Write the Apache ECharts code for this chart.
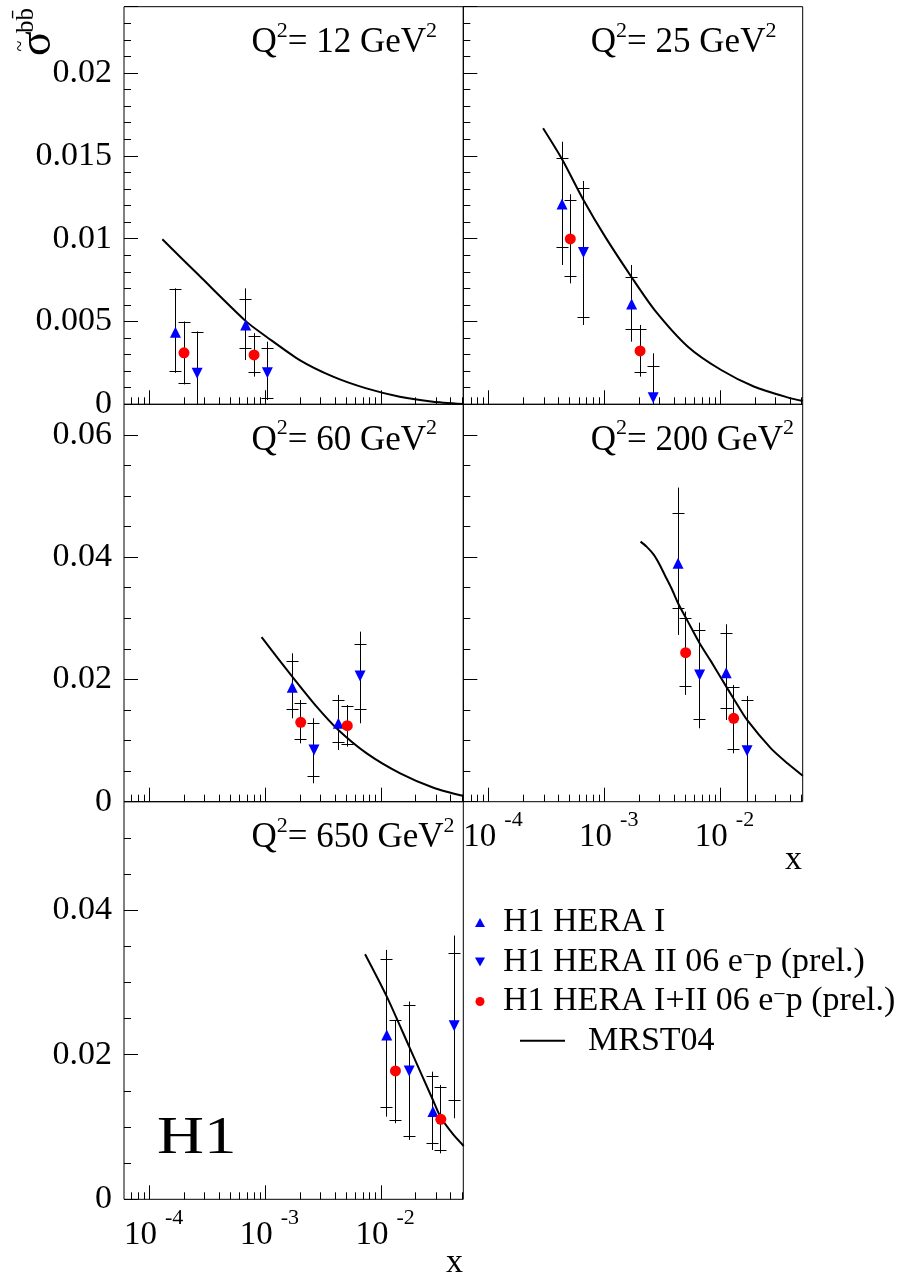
<!DOCTYPE html>
<html><head><meta charset="utf-8">
<script src="https://cdn.jsdelivr.net/npm/echarts@6/dist/echarts.min.js"></script>
<style>html,body{margin:0;padding:0;background:#fff}#c{width:906px;height:1273px}</style>
</head><body><div id="c"></div>
<script>
const FONT = "'Liberation Serif', 'Times New Roman', serif";

// ---------------- data ----------------
const PANEL_Q2 = ['12', '25', '60', '200', '650'];
const Y_MAX = [0.024, 0.024, 0.065, 0.065, 0.055];
const Y_MAJOR_STEP = [0.005, 0.005, 0.02, 0.02, 0.02];
const Y_MINOR_STEP = [0.001, 0.001, 0.005, 0.005, 0.005];
const X_MIN = 6e-5, X_MAX = 0.0513;
const X_LABEL_EXPONENTS = [-4, -3, -2];
const X_MAJOR_TICKS = [1e-4, 1e-3, 1e-2];
const X_MINOR_TICKS = [7e-5, 8e-5, 9e-5,
  2e-4, 3e-4, 4e-4, 5e-4, 6e-4, 7e-4, 8e-4, 9e-4,
  2e-3, 3e-3, 4e-3, 5e-3, 6e-3, 7e-3, 8e-3, 9e-3,
  2e-2, 3e-2, 4e-2, 5e-2];

const SERIES_NAMES = ['H1 HERA I', 'H1 HERA II 06 e-p (prel.)', 'H1 HERA I+II 06 e-p (prel.)', 'MRST04'];

// each point: [x, sigma, statLo, statHi, totLo, totHi]
const HERA1_Q12 = [[1.67e-4, 0.00435, 0.00197, 0.00694, 0.00190, 0.00700], [6.76e-4, 0.00479, 0.00338, 0.00630, 0.00267, 0.00700]];
const HERA2_Q12 = [[2.57e-4, 0.00187, -0.0006, 0.00435, -0.0008, 0.00440], [1.04e-3, 0.00191, 0.00032, 0.00338, 0.00026, 0.00378]];
const COMB_Q12  = [[1.98e-4, 0.00311, 0.00127, 0.00493, 0.00120, 0.00500], [7.98e-4, 0.00298, 0.00193, 0.00408, 0.00167, 0.00429]];
const MRST_Q12  = [[1.287e-4, 0.00996], [2.705e-4, 0.00774], [6.846e-4, 0.00499], [1.02e-3, 0.00408], [1.979e-3, 0.00267],
  [3.842e-3, 0.00167], [7.46e-3, 0.00096], [0.01448, 0.00046], [0.0281, 0.00016], [0.0513, 0.00002]];

const HERA1_Q25 = [[4.28e-4, 0.01209, 0.00948, 0.01481, 0.00841, 0.01585], [1.708e-3, 0.00605, 0.00449, 0.00767, 0.00378, 0.00841]];
const HERA2_Q25 = [[6.55e-4, 0.00917, 0.00523, 0.01300, 0.00479, 0.01348], [2.62e-3, 0.00040, -0.0014, 0.00227, -0.0022, 0.00308]];
const COMB_Q25  = [[5.04e-4, 0.00998, 0.00770, 0.01233, 0.00730, 0.01268], [2.02e-3, 0.00322, 0.00191, 0.00449, 0.00167, 0.00479]];
const MRST_Q25  = [[2.934e-4, 0.01666], [4.28e-4, 0.01479], [6.55e-4, 0.01233], [1.007e-3, 0.01012], [1.708e-3, 0.00767],
  [2.70e-3, 0.00569], [5.23e-3, 0.00348], [0.01014, 0.00207], [0.0196, 0.00106], [0.0379, 0.00042], [0.0513, 0.0002]];

const HERA1_Q60 = [[1.706e-3, 0.01872, 0.01500, 0.02291, 0.01364, 0.02428], [4.27e-3, 0.01283, 0.00966, 0.01648, 0.00846, 0.01746]];
const HERA2_Q60 = [[2.63e-3, 0.00846, 0.00409, 0.01271, 0.00301, 0.01364], [6.58e-3, 0.02057, 0.01500, 0.02575, 0.01283, 0.02782]];
const COMB_Q60  = [[2.02e-3, 0.01299, 0.01010, 0.01610, 0.00955, 0.01664], [5.10e-3, 0.01244, 0.00928, 0.01555, 0.00900, 0.01582]];
const MRST_Q60  = [[9.27e-4, 0.0269], [1.706e-3, 0.02046], [2.77e-3, 0.01555], [4.27e-3, 0.01173], [7.51e-3, 0.00791],
  [0.01462, 0.00464], [0.02838, 0.00229], [0.0517, 0.00093]];

const HERA1_Q200 = [[4.30e-3, 0.0390, 0.03164, 0.04707, 0.02728, 0.05138], [0.0112, 0.02111, 0.01517, 0.02744, 0.01337, 0.02902]];
const HERA2_Q200 = [[6.6e-3, 0.02073, 0.01337, 0.02793, 0.01201, 0.02929], [0.01696, 0.00835, -0.0005, 0.01648, -0.002, 0.0173]];
const COMB_Q200  = [[5.0e-3, 0.02438, 0.01882, 0.02989, 0.01746, 0.03109], [0.0130, 0.01364, 0.00857, 0.01866, 0.00791, 0.01909]];
const MRST_Q200  = [[2.04e-3, 0.04254], [2.298e-3, 0.04172], [2.657e-3, 0.04037], [2.99e-3, 0.03873], [3.30e-3, 0.03709],
  [3.77e-3, 0.03491], [4.30e-3, 0.03246], [5.23e-3, 0.02945], [6.6e-3, 0.02592], [8.31e-3, 0.02291], [0.01014, 0.02019],
  [0.01319, 0.01664], [0.01696, 0.01337], [0.02726, 0.00873], [0.03786, 0.00628], [0.0513, 0.00425]];

const HERA1_Q650 = [[0.01119, 0.02274, 0.01268, 0.03322, 0.01143, 0.0345], [0.02803, 0.01213, 0.00775, 0.01697, 0.00682, 0.01766]];
const HERA2_Q650 = [[0.01747, 0.01776, 0.00867, 0.02675, 0.00821, 0.02735], [0.0428, 0.02399, 0.0136, 0.03405, 0.01121, 0.03649]];
const COMB_Q650  = [[0.0133, 0.01776, 0.01084, 0.02472, 0.01052, 0.02482], [0.0328, 0.01107, 0.00673, 0.01545, 0.00636, 0.01582]];
const MRST_Q650  = [[7.27e-3, 0.03391], [0.0112, 0.02804], [0.01747, 0.02112], [0.02803, 0.01374], [0.0328, 0.0113],
  [0.04227, 0.0089], [0.0517, 0.00738]];

const PANEL_DATA = [
  [HERA1_Q12, HERA2_Q12, COMB_Q12, MRST_Q12],
  [HERA1_Q25, HERA2_Q25, COMB_Q25, MRST_Q25],
  [HERA1_Q60, HERA2_Q60, COMB_Q60, MRST_Q60],
  [HERA1_Q200, HERA2_Q200, COMB_Q200, MRST_Q200],
  [HERA1_Q650, HERA2_Q650, COMB_Q650, MRST_Q650]
];

// ---------------- layout ----------------
const GRIDS = [
  {left: 124, top: 6.7, width: 339.3, height: 397.6},
  {left: 463.3, top: 6.7, width: 339.4, height: 397.6},
  {left: 124, top: 404.3, width: 339.3, height: 397.4},
  {left: 463.3, top: 404.3, width: 339.4, height: 397.4},
  {left: 124, top: 801.7, width: 339.3, height: 397.6}
];
const SHOW_Y_LABELS = [true, false, true, false, true];
const SHOW_X_LABELS = [false, false, false, true, true];
const MARKERS = [
  {symbol: 'triangle', rotate: 0, color: '#0000ff', icon: 'triangle'},
  {symbol: 'triangle', rotate: 180, color: '#0000ff', icon: 'path://M0,0L10,0L5,9Z'},
  {symbol: 'circle', rotate: 0, color: '#ff0000', icon: 'circle'}
];

const crisp = v => Math.round(v - 0.5) + 0.5;

function errRender(params, api) {
  const x = api.value(0);
  const t1 = api.coord([x, api.value(5)]);
  const t0 = api.coord([x, api.value(4)]);
  const s1 = api.coord([x, api.value(3)]);
  const s0 = api.coord([x, api.value(2)]);
  const cx = crisp(t1[0]);
  const hw = 6;
  const st = {stroke: '#000', lineWidth: 1};
  return {type: 'group', children: [
    {type: 'line', shape: {x1: cx, y1: t1[1], x2: cx, y2: t0[1]}, style: st},
    {type: 'line', shape: {x1: cx - hw, y1: crisp(s1[1]), x2: cx + hw, y2: crisp(s1[1])}, style: st},
    {type: 'line', shape: {x1: cx - hw, y1: crisp(s0[1]), x2: cx + hw, y2: crisp(s0[1])}, style: st}
  ]};
}
function tickRender(len) {
  return function (params, api) {
    const p = api.coord([api.value(0), api.value(1)]);
    const x = crisp(p[0]);
    return {type: 'line', shape: {x1: x, y1: p[1], x2: x, y2: p[1] - len}, style: {stroke: '#000', lineWidth: 1}};
  };
}
function fmtX(v) {
  const l = Math.log10(v);
  const e = Math.round(l);
  if (Math.abs(l - e) > 1e-6 || X_LABEL_EXPONENTS.indexOf(e) < 0) return '';
  return '{b|10}{s|' + e + '}';
}
function fmtYFactory(step) {
  return function (v) {
    const r = v / step;
    if (Math.abs(r - Math.round(r)) > 1e-6) return '';
    return String(+v.toFixed(4));
  };
}

const grid = [], xAxis = [], yAxis = [], series = [], graphic = [];

GRIDS.forEach((g, p) => {
  grid.push(Object.assign({show: true, borderColor: '#000', borderWidth: 1, backgroundColor: 'transparent',
    containLabel: false, outerBoundsMode: 'none'}, g));
  xAxis.push({
    type: 'log', logBase: 10, gridIndex: p, min: X_MIN, max: X_MAX,
    axisLine: {show: false}, axisTick: {show: false}, splitLine: {show: false},
    minorTick: {show: false}, minorSplitLine: {show: false},
    axisLabel: {
      show: SHOW_X_LABELS[p], margin: 8, formatter: fmtX, hideOverlap: false,
      rich: {
        b: {fontFamily: FONT, fontSize: 33, color: '#000', lineHeight: 56, verticalAlign: 'middle', padding: [0, 0, 0, 8]},
        s: {fontFamily: FONT, fontSize: 22, color: '#000', lineHeight: 22, verticalAlign: 'top', padding: [0, 0, 0, 8]}
      }
    }
  });
  yAxis.push({
    type: 'value', gridIndex: p, min: 0, max: Y_MAX[p], interval: Y_MAJOR_STEP[p], position: 'left',
    axisLine: {show: false}, splitLine: {show: false},
    axisTick: {show: true, inside: true, length: 14, lineStyle: {color: '#000', width: 1}},
    axisLabel: {show: SHOW_Y_LABELS[p], margin: 12, fontFamily: FONT, fontSize: 34, color: '#000',
      formatter: fmtYFactory(Y_MAJOR_STEP[p])}
  });
  yAxis.push({
    type: 'value', gridIndex: p, min: 0, max: Y_MAX[p], interval: Y_MINOR_STEP[p], position: 'left',
    axisLine: {show: false}, splitLine: {show: false}, axisLabel: {show: false},
    axisTick: {show: true, inside: true, length: 7, lineStyle: {color: '#000', width: 1}}
  });

  const d = PANEL_DATA[p];
  series.push({type: 'custom', xAxisIndex: p, yAxisIndex: 2 * p, silent: true, z: 1,
    data: X_MAJOR_TICKS.map(v => [v, 0]), renderItem: tickRender(14)});
  series.push({type: 'custom', xAxisIndex: p, yAxisIndex: 2 * p, silent: true, z: 1,
    data: X_MINOR_TICKS.map(v => [v, 0]), renderItem: tickRender(7)});
  series.push({type: 'line', name: SERIES_NAMES[3], xAxisIndex: p, yAxisIndex: 2 * p, data: d[3],
    symbol: 'none', showSymbol: false, smooth: 0.25, clip: true, silent: true, z: 2,
    lineStyle: {color: '#000', width: 2}, itemStyle: {color: '#000'}});
  for (let k = 0; k < 3; k++) {
    series.push({type: 'custom', xAxisIndex: p, yAxisIndex: 2 * p, silent: true, clip: true, z: 3,
      data: d[k], renderItem: errRender});
  }
  for (let k = 0; k < 3; k++) {
    series.push({type: 'scatter', name: SERIES_NAMES[k], xAxisIndex: p, yAxisIndex: 2 * p,
      data: d[k].map(r => [r[0], r[1]]), symbol: MARKERS[k].symbol, symbolRotate: MARKERS[k].rotate,
      symbolSize: 11, itemStyle: {color: MARKERS[k].color, opacity: 1}, z: 5, silent: true});
  }
  graphic.push({type: 'text', x: g.left + 127.5, y: g.top + 48.3 - 11.9, silent: true,
    style: {text: '{m|Q}{s|2}{m|= ' + PANEL_Q2[p] + ' GeV}{s|2}', align: 'left', verticalAlign: 'middle',
      textAlign: 'left', textVerticalAlign: 'middle',
      rich: {
        m: {fontFamily: FONT, fontSize: 35, fill: '#000', lineHeight: 46, verticalAlign: 'middle'},
        s: {fontFamily: FONT, fontSize: 22, fill: '#000', lineHeight: 18, verticalAlign: 'top'}
      }}});
});

// y-axis title: sigma-tilde with b b-bar, rotated
graphic.push({type: 'text', x: 37.9, y: 56, rotation: Math.PI / 2, silent: true,
  style: {text: '\u03C3', fontFamily: FONT, fontSize: 46, fill: '#000', align: 'left', verticalAlign: 'middle',
    textAlign: 'left', textVerticalAlign: 'middle'}});
graphic.push({type: 'text', x: 20.5, y: 46, rotation: Math.PI / 2, silent: true,
  style: {text: '~', fontFamily: FONT, fontSize: 20, fill: '#000', align: 'center', verticalAlign: 'middle',
    textAlign: 'center', textVerticalAlign: 'middle'}});
graphic.push({type: 'text', x: 26.5, y: 33, rotation: Math.PI / 2, silent: true,
  style: {text: 'bb\u0304', fontFamily: FONT, fontSize: 25, fill: '#000', align: 'left', verticalAlign: 'middle',
    textAlign: 'left', textVerticalAlign: 'middle'}});

graphic.push({type: 'text', x: 802, y: 872 - 11.6, silent: true,
  style: {text: 'x', fontFamily: FONT, fontSize: 34, fill: '#000', align: 'right', verticalAlign: 'middle', textAlign: 'right', textVerticalAlign: 'middle'}});
graphic.push({type: 'text', x: 463, y: 1275 - 11.6, silent: true,
  style: {text: 'x', fontFamily: FONT, fontSize: 34, fill: '#000', align: 'right', verticalAlign: 'middle', textAlign: 'right', textVerticalAlign: 'middle'}});
graphic.push({type: 'text', x: 157, y: 1157 - 17.7, scaleX: 1.25, originX: 0, originY: 0, silent: true,
  style: {text: 'H1', fontFamily: FONT, fontSize: 52, fill: '#000', align: 'left', verticalAlign: 'middle', textAlign: 'left', textVerticalAlign: 'middle'}});

function legendFmt(name) {
  const parts = name.split('e-p');
  if (parts.length === 2) return '{g| }{t|' + parts[0] + 'e}{sup|\u2212}{t|p' + parts[1] + '}';
  return '{g| }{t|' + name + '}';
}
const legendRich = {
  t: {fontFamily: FONT, fontSize: 34, color: '#000', lineHeight: 34, verticalAlign: 'middle'},
  sup: {fontFamily: FONT, fontSize: 22, color: '#000', lineHeight: 21, verticalAlign: 'top'},
  g: {width: 13, lineHeight: 34, verticalAlign: 'middle'},
  g2: {width: 18, lineHeight: 34, verticalAlign: 'middle'}
};

const option = {
  animation: false,
  backgroundColor: '#fff',
  grid, xAxis, yAxis, series, graphic,
  legend: [
    {data: SERIES_NAMES.slice(0, 3).map((n, k) => ({name: n, icon: MARKERS[k].icon})),
      orient: 'vertical', left: 475, top: 905.5, itemWidth: 10, itemHeight: 9,
      itemGap: 5.5, selectedMode: false, padding: 0, formatter: legendFmt,
      itemStyle: {borderWidth: 0},
      textStyle: {fontFamily: FONT, fontSize: 34, color: '#000', rich: legendRich}},
    {data: [{name: SERIES_NAMES[3], icon: 'path://M0,0H45V2H0Z'}], orient: 'vertical', left: 520, top: 1023.7,
      itemWidth: 45, itemHeight: 2, selectedMode: false, padding: 0,
      itemStyle: {color: '#000', borderWidth: 0},
      formatter: n => '{g2| }{t|' + n + '}',
      textStyle: {fontFamily: FONT, fontSize: 34, color: '#000', rich: legendRich}}
  ]
};

const chart = echarts.init(document.getElementById('c'), null, {renderer: 'canvas'});
chart.setOption(option);
</script></body></html>
